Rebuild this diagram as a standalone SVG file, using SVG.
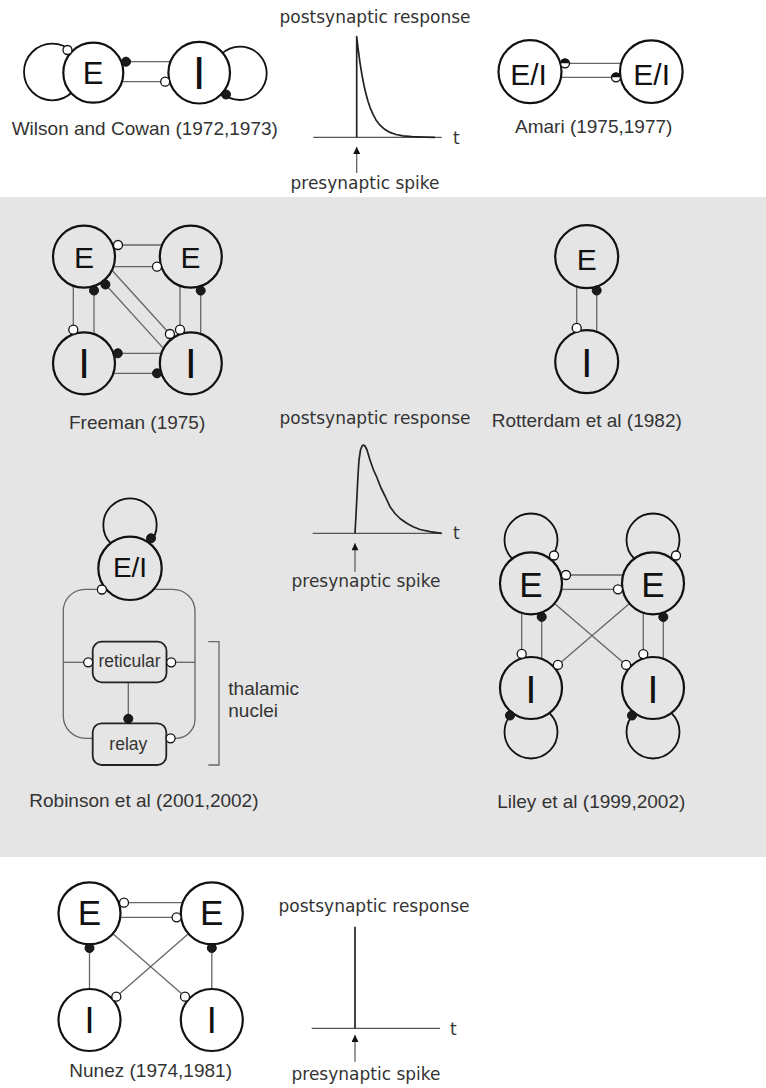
<svg xmlns="http://www.w3.org/2000/svg" width="766" height="1088" viewBox="0 0 766 1088">
<defs>
<style>
.nw{fill:#fff;stroke:#111;stroke-width:2.2}
.ng{fill:#e5e5e5;stroke:#111;stroke-width:2.2}
.loop{fill:none;stroke:#111;stroke-width:1.8}
.c{fill:none;stroke:#666;stroke-width:1.3}
.od{fill:#fff;stroke:#111;stroke-width:1.3}
.fd{fill:#1a1a1a;stroke:#111;stroke-width:1}
.box{fill:#e5e5e5;stroke:#222;stroke-width:1.8}
.lbl{font-family:"Liberation Sans",Arial,sans-serif;font-size:19px;fill:#333}
.lt{font-family:"Liberation Sans",Arial,sans-serif;fill:#111;text-anchor:middle}
.sm{font-family:"Liberation Sans",Arial,sans-serif;font-size:17.5px;fill:#333}
.gr{font-family:"DejaVu Sans",sans-serif;font-size:17px;fill:#333}
.ax{stroke:#555;stroke-width:1.2;fill:none}
.cv{fill:none;stroke:#222;stroke-width:1.7;stroke-linejoin:round}
</style>
<marker id="ah" viewBox="0 0 10 10" refX="10" refY="5" markerWidth="9" markerHeight="7" markerUnits="userSpaceOnUse" orient="auto">
<path d="M0,0 L10,5 L0,10 z" fill="#111"/>
</marker>
</defs>
<rect x="0" y="0" width="766" height="1088" fill="#fff"/>
<rect x="0" y="197" width="766" height="660" fill="#e5e5e5"/>

<!-- connectors -->
<g id="connectors">
<!-- Wilson-Cowan -->
<circle class="loop" cx="52.3" cy="72" r="28.3"/>
<circle class="loop" cx="240" cy="73.3" r="26.7"/>
<line class="c" x1="121.2" y1="61.7" x2="170.5" y2="61.7"/>
<line class="c" x1="121.9" y1="81.7" x2="160.7" y2="81.7"/>
<!-- Amari -->
<line class="c" x1="569" y1="63.3" x2="621.5" y2="63.3"/>
<line class="c" x1="560.5" y1="77.3" x2="611.5" y2="77.3"/>
<!-- Freeman -->
<line class="c" x1="122.5" y1="245" x2="162.1" y2="245"/>
<line class="c" x1="113.3" y1="266.7" x2="152.5" y2="266.7"/>
<line class="c" x1="73.3" y1="285.8" x2="73.3" y2="325.2"/>
<line class="c" x1="94" y1="295" x2="94" y2="334"/>
<line class="c" x1="180" y1="285.8" x2="180" y2="325.2"/>
<line class="c" x1="200.7" y1="295.1" x2="200.7" y2="333.9"/>
<line class="c" x1="122.3" y1="353.3" x2="161.5" y2="353.3"/>
<line class="c" x1="113.3" y1="373.3" x2="152.5" y2="373.3"/>
<line class="c" x1="111.5" y1="269.7" x2="166.9" y2="330.7"/>
<line class="c" x1="108.4" y1="287.8" x2="163" y2="347.9"/>
<!-- Rotterdam -->
<line class="c" x1="576.7" y1="286" x2="576.7" y2="323.4"/>
<line class="c" x1="596.7" y1="295" x2="596.7" y2="332.4"/>
<!-- Robinson -->
<circle class="loop" cx="130" cy="525" r="26.7"/>
<path class="c" d="M97.4 589.3 H85 A21.7 21.7 0 0 0 63.3 611 V716 A22.3 22.3 0 0 0 85.6 738.3 H92.7"/>
<path class="c" d="M153.8 589.3 H173 A22 22 0 0 1 195 611.3 V719.3 A19 19 0 0 1 176 738.3 H175"/>
<line class="c" x1="63.3" y1="662.3" x2="83.7" y2="662.3"/>
<line class="c" x1="175.7" y1="662.3" x2="195" y2="662.3"/>
<line class="c" x1="128.3" y1="682.3" x2="128.3" y2="714.3"/>
<path class="c" d="M208.3 641.7 H219 V765 H208.3"/>
<!-- Liley -->
<circle class="loop" cx="531" cy="540" r="26.5"/>
<circle class="loop" cx="653" cy="540" r="26.5"/>
<circle class="loop" cx="531" cy="732" r="26.5"/>
<circle class="loop" cx="653" cy="732" r="26.5"/>
<line class="c" x1="570.5" y1="575" x2="623" y2="575"/>
<line class="c" x1="561.4" y1="589.3" x2="613.5" y2="589.3"/>
<line class="c" x1="521.7" y1="612.9" x2="521.7" y2="649.4"/>
<line class="c" x1="541.7" y1="621.4" x2="541.7" y2="658.9"/>
<line class="c" x1="643.3" y1="612.7" x2="643.3" y2="649.6"/>
<line class="c" x1="663.3" y1="621.5" x2="663.3" y2="658.8"/>
<line class="c" x1="554.5" y1="603.5" x2="622.7" y2="661.9"/>
<line class="c" x1="629.5" y1="603.5" x2="561.3" y2="661.9"/>
<!-- Nunez -->
<line class="c" x1="128.5" y1="902.7" x2="182.7" y2="902.7"/>
<line class="c" x1="120.2" y1="917.3" x2="172.1" y2="917.3"/>
<line class="c" x1="89.5" y1="952.5" x2="89.5" y2="989"/>
<line class="c" x1="211.8" y1="952.5" x2="211.8" y2="989"/>
<line class="c" x1="112.9" y1="933.7" x2="181.7" y2="993.7"/>
<line class="c" x1="188.4" y1="933.7" x2="119.6" y2="993.7"/>
</g>

<!-- Wilson-Cowan nodes -->
<g id="wc-E"><circle class="nw" cx="93.3" cy="72.7" r="30"/><text class="lt" x="93" y="84" font-size="31">E</text></g>
<g id="wc-I"><circle class="nw" cx="199.2" cy="72.7" r="30.8"/><text class="lt" x="199.2" y="89" font-size="46">I</text></g>
<g id="wc-dots">
<circle class="od" cx="67.5" cy="50" r="4.5"/>
<circle class="fd" cx="226" cy="94.5" r="4.5"/>
<circle class="fd" cx="126" cy="61.7" r="4.5"/>
<circle class="od" cx="165.2" cy="81.7" r="4.5"/>
</g>

<!-- Amari nodes -->
<g id="amari-L"><circle class="nw" cx="530" cy="71.7" r="31.5"/><text class="lt" x="528.5" y="85" font-size="30">E/I</text></g>
<g id="amari-R"><circle class="nw" cx="651.3" cy="71.7" r="31.3"/><text class="lt" x="651.7" y="85" font-size="30">E/I</text></g>
<g id="amari-dots">
<circle class="od" cx="565" cy="63.3" r="4.5"/><path d="M560.5 63.3 A4.5 4.5 0 0 1 569.5 63.3 Z" fill="#111"/>
<circle class="od" cx="616" cy="77.3" r="4.5"/><path d="M611.5 77.3 A4.5 4.5 0 0 1 620.5 77.3 Z" fill="#111"/>
</g>

<!-- Freeman nodes -->
<g id="fr-E1"><circle class="ng" cx="84" cy="256.7" r="31"/><text class="lt" x="84" y="268.3" font-size="30">E</text></g>
<g id="fr-E2"><circle class="ng" cx="190.8" cy="256.7" r="31"/><text class="lt" x="190.5" y="268.3" font-size="30">E</text></g>
<g id="fr-I1"><circle class="ng" cx="84" cy="363.3" r="31"/><text class="lt" x="84" y="378.3" font-size="42">I</text></g>
<g id="fr-I2"><circle class="ng" cx="190.8" cy="363.3" r="31"/><text class="lt" x="190.8" y="378.3" font-size="42">I</text></g>
<g id="fr-dots">
<circle class="od" cx="118" cy="245" r="4.5"/>
<circle class="od" cx="157" cy="266.7" r="4.5"/>
<circle class="od" cx="73.3" cy="329.7" r="4.5"/>
<circle class="fd" cx="94" cy="290.5" r="4.5"/>
<circle class="od" cx="180" cy="329.7" r="4.5"/>
<circle class="fd" cx="200.7" cy="290.6" r="4.5"/>
<circle class="fd" cx="117.8" cy="353.3" r="4.5"/>
<circle class="fd" cx="157" cy="373.3" r="4.5"/>
<circle class="od" cx="169.9" cy="334" r="4.5"/>
<circle class="fd" cx="105.4" cy="284.5" r="4.5"/>
</g>

<!-- Rotterdam nodes -->
<g id="rot-E"><circle class="ng" cx="586.7" cy="256.7" r="31.5"/><text class="lt" x="586.7" y="270" font-size="30">E</text></g>
<g id="rot-I"><circle class="ng" cx="586.7" cy="361.7" r="31.5"/><text class="lt" x="586.7" y="376.7" font-size="40">I</text></g>
<g id="rot-dots">
<circle class="od" cx="576.7" cy="327.9" r="4.5"/>
<circle class="fd" cx="596.7" cy="290.5" r="4.5"/>
</g>

<!-- Robinson nodes -->
<g id="rob-EI"><circle class="ng" cx="130" cy="568.3" r="31.7"/><text class="lt" x="130" y="576.7" font-size="28">E/I</text></g>
<g id="rob-reticular"><rect class="box" x="92.7" y="641.7" width="73.8" height="40.6" rx="9"/><text class="sm" x="129.5" y="667" text-anchor="middle">reticular</text></g>
<g id="rob-relay"><rect class="box" x="92.7" y="723.3" width="73.6" height="41.7" rx="9"/><text class="sm" x="128.3" y="749.5" text-anchor="middle">relay</text></g>
<g id="rob-dots">
<circle class="fd" cx="151" cy="538.3" r="4.5"/>
<circle class="od" cx="101.9" cy="589.5" r="4.5"/>
<circle class="od" cx="88.2" cy="662.3" r="4.5"/>
<circle class="od" cx="171.2" cy="662.3" r="4.5"/>
<circle class="fd" cx="128.3" cy="718.8" r="4.5"/>
<circle class="od" cx="170.6" cy="738.3" r="4.5"/>
</g>
<g id="rob-bracket-label">
<text class="lbl" x="228.3" y="695" font-size="18">thalamic</text>
<text class="lbl" x="228.3" y="717" font-size="18">nuclei</text>
</g>

<!-- Liley nodes -->
<g id="li-E1"><circle class="ng" cx="531" cy="583.3" r="31"/><text class="lt" x="531" y="596.7" font-size="35">E</text></g>
<g id="li-E2"><circle class="ng" cx="653" cy="583.3" r="31"/><text class="lt" x="653" y="596.7" font-size="35">E</text></g>
<g id="li-I1"><circle class="ng" cx="531" cy="688" r="31"/><text class="lt" x="531" y="703" font-size="39">I</text></g>
<g id="li-I2"><circle class="ng" cx="653" cy="688" r="31"/><text class="lt" x="653" y="703" font-size="39">I</text></g>
<g id="li-dots">
<circle class="od" cx="554" cy="555.5" r="4.5"/>
<circle class="od" cx="676" cy="555.5" r="4.5"/>
<circle class="fd" cx="510" cy="715.5" r="4.5"/>
<circle class="fd" cx="632" cy="715.5" r="4.5"/>
<circle class="od" cx="566" cy="575" r="4.5"/>
<circle class="od" cx="618" cy="589.3" r="4.5"/>
<circle class="od" cx="521.7" cy="653.9" r="4.5"/>
<circle class="fd" cx="541.7" cy="616.9" r="4.5"/>
<circle class="od" cx="643.3" cy="654.1" r="4.5"/>
<circle class="fd" cx="663.3" cy="617" r="4.5"/>
<circle class="od" cx="626.1" cy="664.9" r="4.5"/>
<circle class="od" cx="557.9" cy="664.9" r="4.5"/>
</g>

<!-- Nunez nodes -->
<g id="nu-E1"><circle class="nw" cx="89.5" cy="913.3" r="31"/><text class="lt" x="89.5" y="925" font-size="35">E</text></g>
<g id="nu-E2"><circle class="nw" cx="211.8" cy="913.3" r="31"/><text class="lt" x="211.8" y="925" font-size="35">E</text></g>
<g id="nu-I1"><circle class="nw" cx="89.5" cy="1020" r="31"/><text class="lt" x="89.5" y="1033.3" font-size="36">I</text></g>
<g id="nu-I2"><circle class="nw" cx="211.8" cy="1020" r="31"/><text class="lt" x="211.8" y="1033.3" font-size="36">I</text></g>
<g id="nu-dots">
<circle class="od" cx="124" cy="902.7" r="4.5"/>
<circle class="od" cx="176.6" cy="917.3" r="4.5"/>
<circle class="fd" cx="89.5" cy="948" r="4.5"/>
<circle class="fd" cx="211.8" cy="948" r="4.5"/>
<circle class="od" cx="185" cy="996.7" r="4.5"/>
<circle class="od" cx="116.3" cy="996.7" r="4.5"/>
</g>

<!-- model labels -->
<g id="labels">
<text class="lbl" x="11.7" y="135">Wilson and Cowan (1972,1973)</text>
<text class="lbl" x="515" y="132.5">Amari (1975,1977)</text>
<text class="lbl" x="69" y="429">Freeman (1975)</text>
<text class="lbl" x="491.7" y="427">Rotterdam et al (1982)</text>
<text class="lbl" x="29.3" y="806.7">Robinson et al (2001,2002)</text>
<text class="lbl" x="497.3" y="808">Liley et al (1999,2002)</text>
<text class="lbl" x="69.3" y="1077">Nunez (1974,1981)</text>
</g>

<!-- response graph: top -->
<g id="graph-top">
<text class="gr" x="375" y="23.3" text-anchor="middle">postsynaptic response</text>
<line class="ax" x1="313.3" y1="137.3" x2="441.7" y2="137.3"/>
<polyline class="cv" points="356.7,137.3 356.7,36.7 358,47.9 360,62.8 362,75.2 364,85.5 366,94.1 368,101.3 370,107.3 373,114.4 376,119.9 380,125.2 385,129.6 390,132.4 396,134.5 403,135.8 412,136.65 425,137.1 435,137.3"/>
<text class="gr" x="453" y="143.8">t</text>
<line class="ax" x1="356.7" y1="173" x2="356.7" y2="147" marker-end="url(#ah)"/>
<text class="gr" x="365" y="188.5" text-anchor="middle">presynaptic spike</text>
</g>

<!-- response graph: middle -->
<g id="graph-mid">
<text class="gr" x="375" y="423.5" text-anchor="middle">postsynaptic response</text>
<line class="ax" x1="312.7" y1="533.3" x2="441.7" y2="533.3"/>
<polyline class="cv" points="355,533.3 356,515 357,495 358,475 359,460 360.5,450 362,446 363.5,445 365,446 367,450 370,460 373.5,470 376.7,477 381,488 385,496 390,506.7 395,513.5 400,518.5 406.7,523.3 413,526.8 420,529.5 430,531.7 441.7,533.3"/>
<text class="gr" x="453" y="539">t</text>
<line class="ax" x1="355" y1="571.7" x2="355" y2="543.3" marker-end="url(#ah)"/>
<text class="gr" x="366" y="587" text-anchor="middle">presynaptic spike</text>
</g>

<!-- response graph: bottom -->
<g id="graph-bot">
<text class="gr" x="374" y="912" text-anchor="middle">postsynaptic response</text>
<line class="ax" x1="311.7" y1="1028.3" x2="440" y2="1028.3"/>
<line class="cv" x1="355" y1="1028.3" x2="355" y2="926.7"/>
<text class="gr" x="450" y="1035">t</text>
<line class="ax" x1="355" y1="1061.7" x2="355" y2="1035" marker-end="url(#ah)"/>
<text class="gr" x="366" y="1080" text-anchor="middle">presynaptic spike</text>
</g>
</svg>
